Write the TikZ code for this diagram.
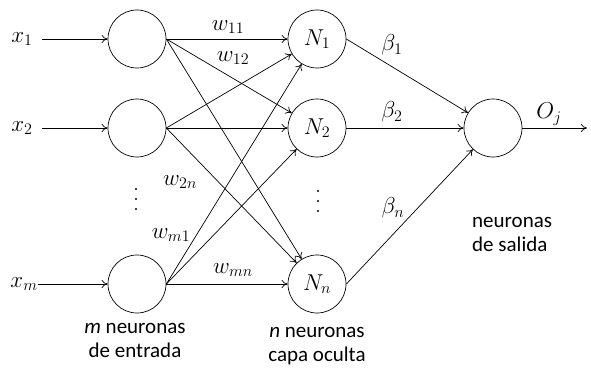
\RequirePackage{fix-cm}
\documentclass[tikz,border=0pt]{standalone}
\usepackage{fontspec}
\setmainfont{Carlito}
\usetikzlibrary{arrows.meta}
\begin{document}
\begin{tikzpicture}[x=1pt,y=-1pt,
  neuron/.style={draw,circle,minimum size=58pt,inner sep=0pt,line width=0.7pt},
  conn/.style={-{To[length=6pt,width=8pt]},line width=0.7pt},
  lbl/.style={inner sep=0pt,font=\fontsize{23}{27}\selectfont},
  txt/.style={inner sep=0pt,font=\fontsize{21}{24}\selectfont},
  dot/.style={fill,circle,inner sep=0pt,minimum size=2.2pt}]
\useasboundingbox (0,0) rectangle (591,369);
% input neurons
\node[neuron] (i1) at (137,39) {};
\node[neuron] (i2) at (137,128) {};
\node[neuron] (im) at (137,284) {};
% hidden neurons
\node[neuron,font=\fontsize{23}{27}\selectfont] (h1) at (317,39) {$N_1$};
\node[neuron,font=\fontsize{23}{27}\selectfont] (h2) at (317,128) {$N_2$};
\node[neuron,font=\fontsize{23}{27}\selectfont] (hn) at (317,284) {$N_n$};
% output neuron
\node[neuron] (o) at (493,128) {};
% inputs
\node[lbl] (x1) at (22,39) {$x_1$};
\node[lbl] (x2) at (22,128) {$x_2$};
\node[lbl] (xm) at (24,284) {$x_m$};
\draw[conn] (42,39) coordinate (x1e) -- (i1);
\draw[conn] (42,128) coordinate (x2e) -- (i2);
\draw[conn] (xm.east) -- (im);
% input to hidden
\foreach \s in {i1,i2,im}{
  \foreach \t in {h1,h2,hn}{
    \draw[conn] (\s.east) -- (\t);
  }
}
% hidden to output
\foreach \s in {h1,h2,hn}{
  \draw[conn] (\s.east) -- (o);
}
\coordinate (oe) at (587,128);
\draw[conn] (o.east) -- (oe);
% weight labels
\node[lbl] (w11) at (228,27) {$w_{11}$};
\node[lbl] (w12) at (233,58) {$w_{12}$};
\node[lbl] (w2n) at (180,182) {$w_{2n}$};
\node[lbl] (wm1) at (171,235) {$w_{m1}$};
\node[lbl] (wmn) at (233,270) {$w_{mn}$};
\node[lbl] (b1) at (392,45) {$\beta_1$};
\node[lbl] (b2) at (392,112) {$\beta_2$};
\node[lbl] (bn) at (393,208) {$\beta_n$};
\node[lbl] (oj) at (549,114) {$O_j$};
% dots
\foreach \y in {189,199,209}{
  \node[dot] at (136,\y) {};
  \node[dot] at (318,\y+2) {};
}
% captions
\node[txt,align=center] (c1) at (135,340) {\textit{m} neuronas\\de entrada};
\node[txt,align=center] (c2) at (317,346) {\textit{n} neuronas\\capa oculta};
\node[txt,align=left,anchor=west] (c3) at (472,234) {neuronas\\de salida};
\end{tikzpicture}
\end{document}
